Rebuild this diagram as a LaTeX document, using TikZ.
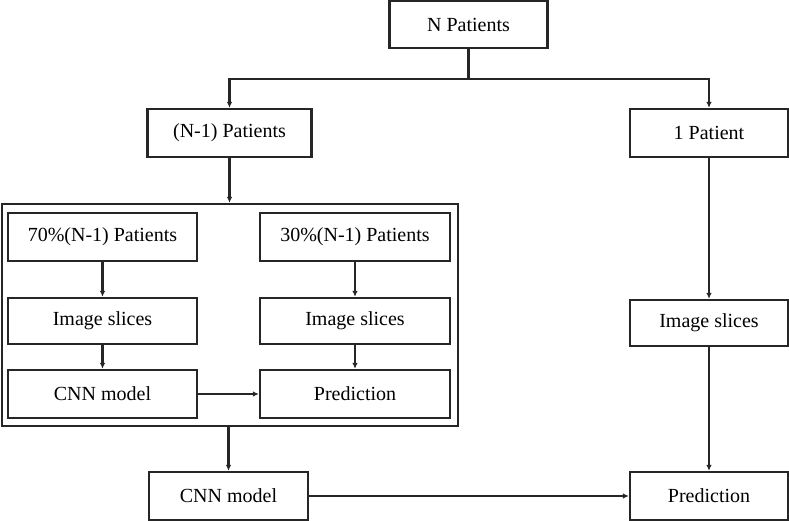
\documentclass[tikz,border=0pt]{standalone}
\usepackage{fontspec}
\setmainfont{Liberation Serif}
\usetikzlibrary{arrows.meta}
\begin{document}
\begin{tikzpicture}[x=1pt,y=-1pt,
  box/.style={draw=black!85, line width=2.2pt, inner sep=0pt, align=center,
    font=\fontsize{20}{24}\selectfont},
  arr/.style={draw=black!85, line width=2.2pt, -{Latex[length=6pt,width=5.5pt]}},
  ln/.style={draw=black!85, line width=2.2pt}]
\useasboundingbox (0,0) rectangle (789,521);
\node[box, minimum width=158pt, minimum height=47pt] (np) at (468.5,24.5) {N Patients};
\node[box, minimum width=164pt, minimum height=48pt] (n1) at (229.5,133) {(N-1) Patients};
\node[box, minimum width=158pt, minimum height=48pt] (p1) at (709,133) {1 Patient};
\node[box, minimum width=456pt, minimum height=222pt] (big) at (230,315) {};
\node[box, minimum width=189pt, minimum height=48pt] (a70) at (102.5,237) {70\%(N-1) Patients};
\node[box, minimum width=190pt, minimum height=48pt] (a30) at (355,237) {30\%(N-1) Patients};
\node[box, minimum width=189pt, minimum height=46pt] (is1) at (102.5,321) {Image slices};
\node[box, minimum width=190pt, minimum height=46pt] (is2) at (355,321) {Image slices};
\node[box, minimum width=189pt, minimum height=48pt] (cnn1) at (102.5,394) {CNN model};
\node[box, minimum width=190pt, minimum height=48pt] (pr1) at (355,394) {Prediction};
\node[box, minimum width=158pt, minimum height=46pt] (is3) at (709,323) {Image slices};
\node[box, minimum width=159pt, minimum height=48pt] (cnn2) at (228.5,496) {CNN model};
\node[box, minimum width=158pt, minimum height=48pt] (pr2) at (709,496) {Prediction};
\coordinate (j) at (468.5,79);
\draw[ln] (np.south) -- (j);
\draw[arr] (j) -| (n1.north);
\draw[arr] (j) -| (p1.north);
\draw[arr] (n1.south) -- (n1.south |- big.north);
\draw[arr] (a70) -- (is1);
\draw[arr] (is1) -- (cnn1);
\draw[arr] (a30) -- (is2);
\draw[arr] (is2) -- (pr1);
\draw[arr] (cnn1) -- (pr1);
\draw[arr] (cnn2.north |- big.south) -- (cnn2.north);
\draw[arr] (p1) -- (is3);
\draw[arr] (is3) -- (pr2);
\draw[arr] (cnn2) -- (pr2);
\end{tikzpicture}
\end{document}
